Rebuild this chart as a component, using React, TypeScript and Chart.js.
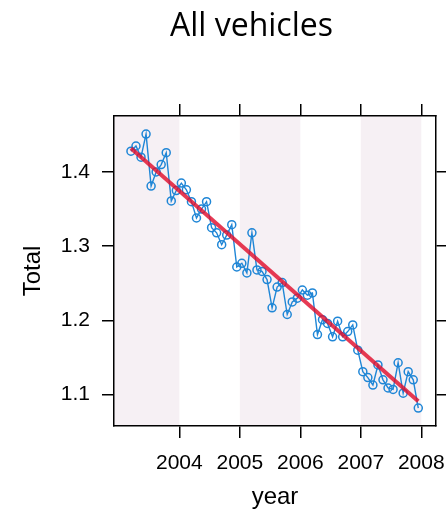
import React, { useEffect, useRef } from 'react';
import { Chart, registerables } from 'chart.js';

Chart.register(...registerables);

const TITLE = 'All vehicles';
const X_LABEL = 'year';
const Y_LABEL = 'Total';

// monthly series (ts-like: start + frequency)
const SERIES_START = 2003.2;
const SERIES_FREQUENCY = 12;
const totals = [
  1.428, 1.435, 1.42, 1.451, 1.381, 1.4, 1.41, 1.426, 1.361, 1.375, 1.385, 1.376,
  1.36, 1.338, 1.35, 1.36, 1.325, 1.318, 1.302, 1.315, 1.329, 1.272, 1.277, 1.264,
  1.318, 1.268, 1.266, 1.255, 1.217, 1.245, 1.251, 1.208, 1.225, 1.23, 1.241, 1.234,
  1.237, 1.181, 1.201, 1.196, 1.178, 1.199, 1.178, 1.185, 1.194, 1.16, 1.131, 1.123,
  1.113, 1.14, 1.12, 1.109, 1.107, 1.143, 1.102, 1.131, 1.12, 1.082,
];

// fitted trend line end points
const trendYears = [2003.2, 2007.95];
const trendTotals = [1.432, 1.091];

const xTickValues = [2004, 2005, 2006, 2007, 2008];
const yTickValues = [1.1, 1.2, 1.3, 1.4];
const shadedStarts = [2002, 2005, 2007];
const shadedEnds = [2004, 2006, 2008];

const X_MIN = 2002.92;
const X_MAX = 2008.243;
const Y_MIN = 1.0578;
const Y_MAX = 1.4754;

const FONT = '"Liberation Sans", Arial, sans-serif';

export default function App() {
  const ref = useRef<HTMLCanvasElement | null>(null);

  useEffect(() => {
    if (!ref.current) return;

    const stripes = {
      id: 'stripes',
      beforeDraw(chart: any) {
        const { ctx, chartArea } = chart;
        const xs = chart.scales.x;
        ctx.save();
        ctx.beginPath();
        ctx.rect(chartArea.left, chartArea.top, chartArea.right - chartArea.left, chartArea.bottom - chartArea.top);
        ctx.clip();
        ctx.fillStyle = '#f6f0f4';
        shadedStarts.forEach((s, i) => {
          const x0 = xs.getPixelForValue(s);
          const x1 = xs.getPixelForValue(shadedEnds[i]);
          ctx.fillRect(x0, chartArea.top, x1 - x0, chartArea.bottom - chartArea.top);
        });
        ctx.restore();
      },
    };

    const titlePlugin = {
      id: 'customTitle',
      afterDraw(chart: any) {
        const { ctx } = chart;
        ctx.save();
        ctx.font = '32px "Open Sans", sans-serif';
        ctx.fillStyle = '#000';
        ctx.textAlign = 'center';
        ctx.textBaseline = 'alphabetic';
        ctx.fillText(TITLE, 251.5, 36);
        ctx.restore();
      },
    };

    const gridOpts = {
      display: true,
      drawOnChartArea: false,
      drawTicks: true,
      tickLength: 12,
      color: '#000',
      lineWidth: 1.5,
    };
    const borderOpts = { display: true, color: '#000', width: 1.5 };

    const fixH = (h: number) => (s: any) => {
      s.height = h;
      s.paddingLeft = 0;
      s.paddingRight = 0;
      s.paddingTop = 0;
      s.paddingBottom = 0;
    };
    const fixW = (w: number) => (s: any) => {
      s.width = w;
      s.paddingLeft = 0;
      s.paddingRight = 0;
      s.paddingTop = 0;
      s.paddingBottom = 0;
    };

    const chart = new Chart(ref.current, {
      type: 'line',
      data: {
        datasets: [
          {
            label: 'trend',
            data: trendYears.map((x, i) => ({ x, y: trendTotals[i] })),
            borderColor: 'rgba(225,15,45,0.82)',
            borderWidth: 4,
            pointRadius: 0,
            fill: false,
            order: 1,
          },
          {
            label: 'Total',
            data: totals.map((y, i) => ({ x: SERIES_START + i / SERIES_FREQUENCY, y })),
            borderColor: '#1f86d6',
            borderWidth: 1.4,
            pointRadius: 4,
            pointBorderColor: '#1f86d6',
            pointBackgroundColor: 'rgba(0,0,0,0)',
            pointBorderWidth: 1.5,
            tension: 0,
            fill: false,
            order: 2,
          },
        ],
      },
      options: {
        animation: false,
        responsive: false,
        maintainAspectRatio: false,
        layout: { padding: 0 },
        plugins: {
          legend: { display: false },
          tooltip: { enabled: false },
          title: { display: false },
        },
        scales: {
          x: {
            type: 'linear',
            position: 'bottom',
            min: X_MIN,
            max: X_MAX,
            afterBuildTicks: (s: any) => {
              s.ticks = xTickValues.map((v) => ({ value: v }));
            },
            afterFit: fixH(87),
            ticks: {
              autoSkip: false,
              maxRotation: 0,
              padding: 13,
              color: '#000',
              font: { family: FONT, size: 21 },
              callback: (v: any) => String(v),
            },
            grid: gridOpts,
            border: borderOpts,
            title: {
              display: true,
              text: X_LABEL,
              color: '#000',
              font: { family: FONT, size: 24 },
              padding: { top: 0, bottom: 1 },
            },
          },
          x2: {
            type: 'linear',
            position: 'top',
            min: X_MIN,
            max: X_MAX,
            afterBuildTicks: (s: any) => {
              s.ticks = xTickValues.map((v) => ({ value: v }));
            },
            afterFit: fixH(116),
            ticks: { display: false },
            grid: gridOpts,
            border: borderOpts,
          },
          y: {
            type: 'linear',
            position: 'left',
            min: Y_MIN,
            max: Y_MAX,
            afterBuildTicks: (s: any) => {
              s.ticks = yTickValues.map((v) => ({ value: v }));
            },
            afterFit: fixW(114),
            ticks: {
              autoSkip: false,
              padding: 12,
              color: '#000',
              font: { family: FONT, size: 21 },
              callback: (v: any) => Number(v).toFixed(1),
            },
            grid: gridOpts,
            border: borderOpts,
            title: {
              display: true,
              text: Y_LABEL,
              color: '#000',
              font: { family: FONT, size: 24 },
              padding: { top: 19, bottom: 0 },
            },
          },
          y2: {
            type: 'linear',
            position: 'right',
            min: Y_MIN,
            max: Y_MAX,
            afterBuildTicks: (s: any) => {
              s.ticks = yTickValues.map((v) => ({ value: v }));
            },
            afterFit: fixW(10),
            ticks: { display: false },
            grid: gridOpts,
            border: borderOpts,
          },
        },
      } as any,
      plugins: [stripes, titlePlugin],
    });

    return () => chart.destroy();
  }, []);

  return (
    <div style={{ position: 'absolute', left: 0, top: 0, width: 446, height: 513, background: '#fff' }}>
      <canvas ref={ref} width={446} height={513} style={{ display: 'block' }} />
    </div>
  );
}
